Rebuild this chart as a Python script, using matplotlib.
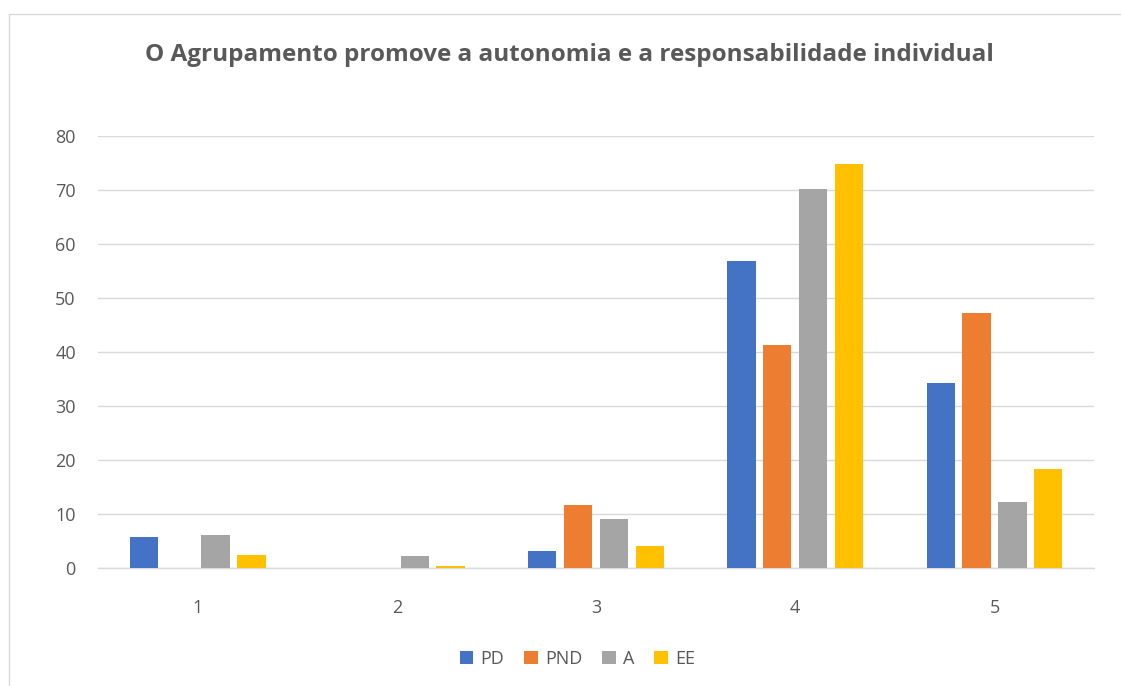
import matplotlib.pyplot as plt
from matplotlib.patches import Rectangle
import numpy as np

plt.rcParams.update({
    "font.family": ["Open Sans", "DejaVu Sans"],
    "text.color": "#595959",
    "xtick.color": "#595959",
    "ytick.color": "#595959",
})

categories = ["1", "2", "3", "4", "5"]
series_names = ["PD", "PND", "A", "EE"]
pd_vals = [5.7, 0.0, 3.2, 56.8, 34.2]
pnd_vals = [0.0, 0.0, 11.7, 41.3, 47.2]
a_vals = [6.2, 2.2, 9.0, 70.1, 12.2]
ee_vals = [2.4, 0.3, 4.0, 74.8, 18.3]
colors = ["#4472C4", "#ED7D31", "#A5A5A5", "#FFC000"]

fig = plt.figure(figsize=(11.21, 6.86), dpi=100)
ax = fig.add_axes([0.0874, 0.172, 0.8886, 0.6297])

# chart frame
fig.patches.append(Rectangle((0.008, -0.01), 1.0, 0.99, transform=fig.transFigure,
                             fill=False, edgecolor="#d9d9d9", lw=1.0))

x = np.arange(1, len(categories) + 1)
step, width = 0.18, 0.142
for i, (vals, name) in enumerate(zip([pd_vals, pnd_vals, a_vals, ee_vals], series_names)):
    ax.bar(x + (i - 1.5) * step, vals, width=width, color=colors[i], label=name, zorder=3)

ax.set_xlim(0.5, 5.5)
ax.set_ylim(0, 80)
ax.set_yticks(range(0, 81, 10))
ax.set_xticks(x)
ax.set_xticklabels(categories)
ax.yaxis.grid(True, color="#d9d9d9", lw=1.0, zorder=0)
for s in ["top", "right", "left"]:
    ax.spines[s].set_visible(False)
ax.spines["bottom"].set_color("#d9d9d9")
ax.spines["bottom"].set_linewidth(1.0)
ax.tick_params(axis="both", length=0, labelsize=13)
ax.tick_params(axis="x", pad=22)
ax.tick_params(axis="y", pad=16)

fig.text(0.508, 0.92, "O Agrupamento promove a autonomia e a responsabilidade individual",
         ha="center", va="center", fontsize=17.5, fontweight="bold", color="#595959")

fig.legend(loc="center", bbox_to_anchor=(0.515, 0.04), ncol=4, frameon=False,
           fontsize=13, handlelength=0.75, handleheight=0.75, handletextpad=0.4,
           columnspacing=1.1)

fig.savefig("out.png", dpi=100)
